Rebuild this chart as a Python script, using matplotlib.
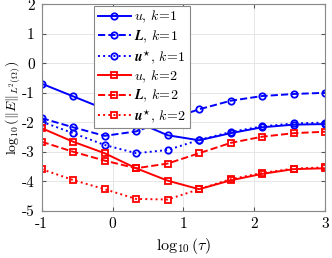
import numpy as np
import matplotlib
matplotlib.use("Agg")
import matplotlib.pyplot as plt

plt.rcParams['font.family'] = 'cmr10'
plt.rcParams['mathtext.fontset'] = 'cm'
plt.rcParams['axes.unicode_minus'] = False

# log10(tau)
log_tau = [-1.0, -0.556, -0.111, 0.333, 0.778, 1.222, 1.667, 2.111, 2.556, 3.0]

# k = 1
u_k1 = [-0.69, -1.12, -1.55, -1.98, -2.44, -2.61, -2.37, -2.17, -2.08, -2.06]
L_k1 = [-1.86, -2.17, -2.46, -2.31, -1.92, -1.56, -1.27, -1.11, -1.04, -1.00]
us_k1 = [-1.98, -2.37, -2.77, -3.05, -2.94, -2.60, -2.33, -2.14, -2.04, -2.01]

# k = 2
u_k2 = [-2.20, -2.66, -3.05, -3.56, -3.98, -4.27, -3.97, -3.75, -3.59, -3.56]
L_k2 = [-2.66, -3.00, -3.30, -3.56, -3.40, -3.05, -2.70, -2.49, -2.37, -2.32]
us_k2 = [-3.59, -3.96, -4.27, -4.60, -4.62, -4.27, -3.93, -3.72, -3.57, -3.53]

xticks = [-1, 0, 1, 2, 3]
yticks = [-5, -4, -3, -2, -1, 0, 1, 2]

fig = plt.figure(figsize=(3.32, 2.58), dpi=100)
ax = fig.add_axes([0.1256, 0.1833, 0.8534, 0.7997])

kw = dict(lw=1.4, ms=4.6, mfc='none', mew=1.3)
ax.plot(log_tau, u_k1, '-o', color='b', label=r'$u$, $k\!=\!1$', **kw)
ax.plot(log_tau, L_k1, '--o', color='b', label=r'$\boldsymbol{L}$, $k\!=\!1$', **kw)
ax.plot(log_tau, us_k1, ':o', color='b', label=r'$\boldsymbol{u}^{\star}$, $k\!=\!1$', **kw)
ax.plot(log_tau, u_k2, '-s', color='r', label=r'$u$, $k\!=\!2$', **kw)
ax.plot(log_tau, L_k2, '--s', color='r', label=r'$\boldsymbol{L}$, $k\!=\!2$', **kw)
ax.plot(log_tau, us_k2, ':s', color='r', label=r'$\boldsymbol{u}^{\star}$, $k\!=\!2$', **kw)

ax.set_xlim(-1, 3)
ax.set_ylim(-5, 2)
ax.set_xticks(xticks)
ax.set_yticks(yticks)
ax.set_xticklabels([str(t) for t in xticks])
ax.set_yticklabels([str(t) for t in yticks])
ax.tick_params(direction='in', top=True, right=True, labelsize=11,
               color='#555555', length=3, pad=5)
ax.grid(True, color='#e6e6e6', lw=0.7)
for s in ax.spines.values():
    s.set_color('#888888')
    s.set_linewidth(0.8)

ax.set_xlabel(r'$\log_{10}(\tau)$', fontsize=11.5, labelpad=3)
ax.set_ylabel(r'$\log_{10}(\|E\|_{L^2(\Omega)})$', fontsize=10, labelpad=0)

leg = ax.legend(loc='upper left', bbox_to_anchor=(0.18, 1.0), fontsize=10,
                handlelength=2.4, handletextpad=0.25, labelspacing=0.22,
                borderpad=0.25, borderaxespad=0.1, fancybox=False, framealpha=1)
leg.get_frame().set_edgecolor('#888888')
leg.get_frame().set_linewidth(0.8)

fig.savefig('out.png', dpi=100)
